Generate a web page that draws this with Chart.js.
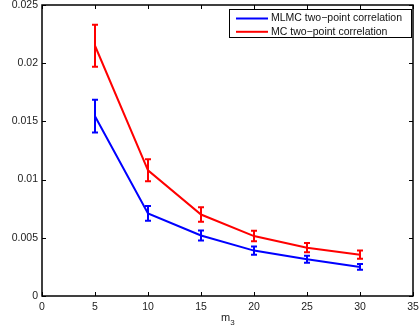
<!DOCTYPE html>
<html>
<head>
<meta charset="utf-8">
<script src="https://cdn.jsdelivr.net/npm/chart.js@4.4.0/dist/chart.umd.min.js"></script>
<style>
html,body{margin:0;padding:0;background:#fff;}
#wrap{width:420px;height:330px;position:relative;}
</style>
</head>
<body>
<div id="wrap"><canvas id="c" width="420" height="330"></canvas></div>
<script>
const m3 = [5, 10, 15, 20, 25, 30];
const mlmcValues = [0.01545, 0.0071, 0.0052, 0.0039, 0.00315, 0.0025];
const mlmcErrors = [0.0014, 0.00063, 0.00043, 0.00035, 0.0003, 0.00025];
const mcValues = [0.0215, 0.0108, 0.0070, 0.00515, 0.00415, 0.00355];
const mcErrors = [0.0018, 0.00095, 0.00062, 0.00045, 0.0004, 0.00035];
const seriesLabels = ['MLMC two\u2212point correlation', 'MC two\u2212point correlation'];
const xTicks = [0, 5, 10, 15, 20, 25, 30, 35];
const yTicks = [0, 0.005, 0.01, 0.015, 0.02, 0.025];

const FONT = '"Liberation Sans", Arial, Helvetica, sans-serif';

const errorBars = {
  id: 'errorBars',
  afterDatasetsDraw(chart) {
    const ctx = chart.ctx;
    const xs = chart.scales.x, ys = chart.scales.y;
    chart.data.datasets.forEach(ds => {
      ctx.save();
      ctx.strokeStyle = ds.borderColor;
      ctx.lineWidth = 2;
      ds.data.forEach((p, i) => {
        const e = ds.errors[i];
        const x = xs.getPixelForValue(p.x);
        const y1 = ys.getPixelForValue(p.y + e);
        const y2 = ys.getPixelForValue(p.y - e);
        ctx.beginPath();
        ctx.moveTo(x, y1); ctx.lineTo(x, y2);
        ctx.moveTo(x - 3, y1); ctx.lineTo(x + 3, y1);
        ctx.moveTo(x - 3, y2); ctx.lineTo(x + 3, y2);
        ctx.stroke();
      });
      ctx.restore();
    });
  }
};

const frame = {
  id: 'frame',
  afterDraw(chart) {
    const ctx = chart.ctx;
    const a = chart.chartArea;
    const xs = chart.scales.x, ys = chart.scales.y;
    ctx.save();
    ctx.strokeStyle = '#000';
    ctx.lineWidth = 1;
    ctx.beginPath();
    xTicks.forEach(v => {
      const x = Math.round(xs.getPixelForValue(v)) + 0.5;
      ctx.moveTo(x, a.bottom); ctx.lineTo(x, a.bottom - 4);
      ctx.moveTo(x, a.top); ctx.lineTo(x, a.top + 4);
    });
    yTicks.forEach(v => {
      const y = Math.round(ys.getPixelForValue(v)) + 0.5;
      ctx.moveTo(a.left, y); ctx.lineTo(a.left + 4, y);
      ctx.moveTo(a.right, y); ctx.lineTo(a.right - 4, y);
    });
    ctx.stroke();
    ctx.lineWidth = 1.5;
    ctx.strokeRect(a.left, a.top, a.right - a.left, a.bottom - a.top);

    // x title m_3
    ctx.fillStyle = '#222';
    ctx.font = '11px ' + FONT;
    ctx.textAlign = 'center';
    ctx.textBaseline = 'alphabetic';
    const cx = (a.left + a.right) / 2;
    ctx.fillText('m', cx - 2, 321);
    ctx.font = '8px ' + FONT;
    ctx.fillText('3', cx + 5, 325);

    // legend
    const lx = 229.5, ly = 9.5, lw = 182, lh = 28;
    ctx.fillStyle = '#fff';
    ctx.fillRect(lx, ly, lw, lh);
    ctx.lineWidth = 1;
    ctx.strokeStyle = '#000';
    ctx.strokeRect(lx, ly, lw, lh);
    ctx.font = '10.5px ' + FONT;
    ctx.textAlign = 'left';
    ctx.textBaseline = 'middle';
    chart.data.datasets.forEach((ds, i) => {
      const y = 18.5 + i * 13.3;
      ctx.strokeStyle = ds.borderColor;
      ctx.lineWidth = 2;
      ctx.beginPath();
      ctx.moveTo(236, y); ctx.lineTo(268, y);
      ctx.stroke();
      ctx.fillStyle = '#111';
      ctx.fillText(ds.label, 271, y);
    });
    ctx.restore();
  }
};

const toPts = (vals) => m3.map((x, i) => ({ x: x, y: vals[i] }));
const zeroPad = (s) => { s.paddingTop = 0; s.paddingBottom = 0; s.paddingLeft = 0; s.paddingRight = 0; };

new Chart(document.getElementById('c'), {
  type: 'line',
  data: {
    datasets: [
      { label: seriesLabels[0], data: toPts(mlmcValues), errors: mlmcErrors, borderColor: '#0000ff', borderWidth: 2, pointRadius: 0, fill: false, tension: 0 },
      { label: seriesLabels[1], data: toPts(mcValues), errors: mcErrors, borderColor: '#ff0000', borderWidth: 2, pointRadius: 0, fill: false, tension: 0 }
    ]
  },
  options: {
    responsive: false,
    animation: false,
    events: [],
    layout: { padding: { left: 0, right: 7, top: 5, bottom: 0 } },
    plugins: { legend: { display: false }, tooltip: { enabled: false } },
    scales: {
      x: {
        type: 'linear', min: 0, max: 35,
        grid: { display: false, drawTicks: false },
        border: { display: false },
        afterBuildTicks: (s) => { s.ticks = xTicks.map(v => ({ value: v })); },
        afterFit: (s) => { s.height = 34; zeroPad(s); },
        ticks: { color: '#222', font: { family: FONT, size: 10.5 }, padding: 5, maxRotation: 0, autoSkip: false, callback: (v) => String(v) }
      },
      y: {
        type: 'linear', min: 0, max: 0.025,
        grid: { display: false, drawTicks: false },
        border: { display: false },
        afterBuildTicks: (s) => { s.ticks = yTicks.map(v => ({ value: v })); },
        afterFit: (s) => { s.width = 42; zeroPad(s); },
        ticks: { color: '#222', font: { family: FONT, size: 10.5 }, padding: 4, autoSkip: false, callback: (v) => String(v) }
      }
    }
  },
  plugins: [errorBars, frame]
});
</script>
</body>
</html>
